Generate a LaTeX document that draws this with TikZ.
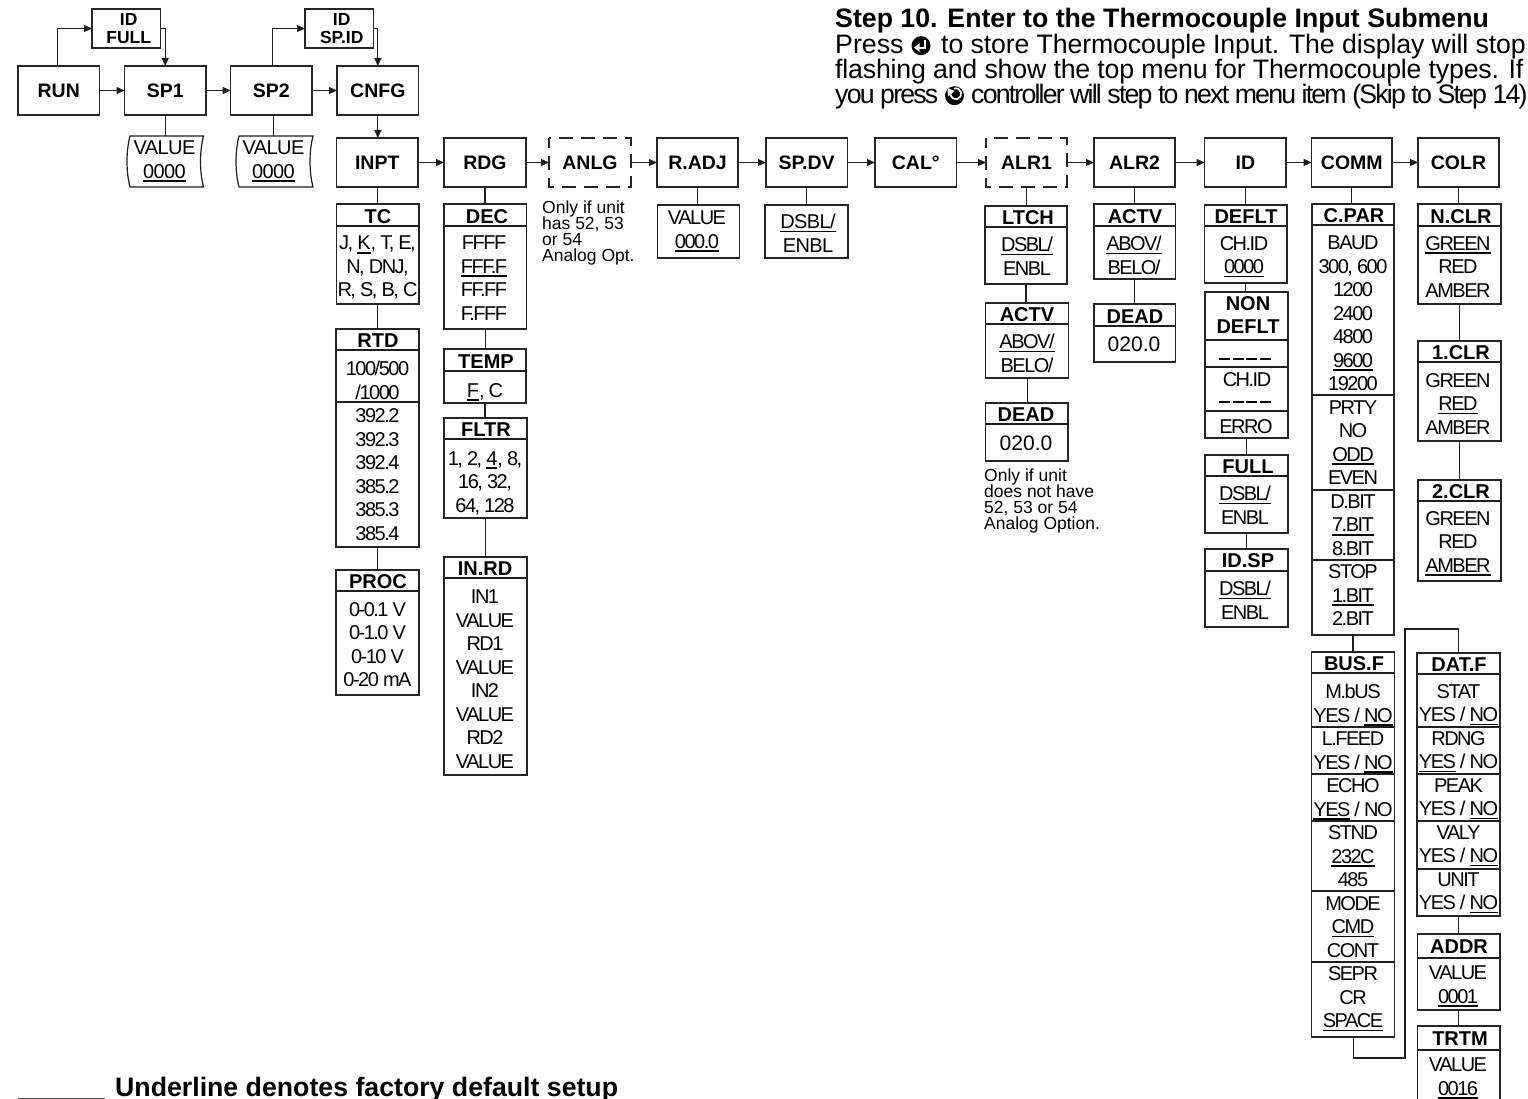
\documentclass[tikz,border=0pt]{standalone}
\usepackage{fontspec}
\usetikzlibrary{arrows.meta,calc}
\setmainfont{Liberation Sans}
\newfontfamily\tightf[LetterSpace=-7.5]{Liberation Sans}
\newfontfamily\midf[LetterSpace=-3]{Liberation Sans}
\newfontfamily\stepg[LetterSpace=-6.8]{Liberation Sans}
\newfontfamily\stepa[LetterSpace=-0.5]{Liberation Sans}
\newfontfamily\stepb[LetterSpace=-0.7]{Liberation Sans}
\newcommand\ul[1]{\setbox0\hbox{#1}\rlap{\rule[-3.6pt]{\wd0}{1.7pt}}\box0\relax}
\tikzset{
  lnk/.style={line width=1.2pt,draw=black!88},
  arr/.style={lnk,-{Triangle[length=8pt,width=7pt]}},
  box/.style={draw=black!85,line width=1.2pt,inner sep=0pt,outer sep=0pt,fill=white},
  headbox/.style={box,text depth=0pt,font=\fontsize{19.5}{22}\bfseries\selectfont},
  smallhead/.style={box,align=center,font=\fontsize{17.5}{18.3}\bfseries\selectfont},
  dashbox/.style={box,draw=none,fill=none,text depth=0pt,font=\fontsize{19.5}{22}\bfseries\selectfont},
  dashline/.style={draw=black!85,line width=1.1pt,dash pattern=on 14pt off 8pt,dash phase=4pt},
  ttlst/.style={inner sep=0pt,yshift=-0.7pt,font=\fontsize{20}{23.5}\bfseries\selectfont},
  rowst/.style={inner sep=0pt,anchor=north,align=center,font=\fontsize{20}{23.5}\tightf\selectfont,execute at begin node=\strut},
  midrow/.style={font=\fontsize{20}{23.5}\midf\selectfont},
  bigrow/.style={font=\fontsize{21}{23.5}\rmfamily\selectfont},
  notest/.style={inner sep=0pt,anchor=north west,align=left,font=\fontsize{17.5}{16}\selectfont,execute at begin node={\lineskiplimit=-8pt\strut}},
  stepst/.style={inner sep=0pt,anchor=base west},
  steptxt/.style={stepst,font=\fontsize{26.7}{25}\selectfont},
  steptxa/.style={stepst,font=\fontsize{26.7}{25}\stepa\selectfont},
  steptxb/.style={stepst,font=\fontsize{26.7}{25}\stepb\selectfont},
  stepcnd/.style={stepst,font=\fontsize{26.7}{25}\stepg\selectfont},
  stepbold/.style={stepst,font=\fontsize{26.7}{25}\bfseries\selectfont},
}
\newcommand\pnl[6][box]{\node[#1,minimum width={(#4-#2)*1pt},minimum height={(#5-#3)*1pt}] (#6) at ({(#2+#4)/2},{(#3+#5)/2}) {};}
\newcommand\hd[7][headbox]{\node[#1,minimum width={(#4-#2)*1pt},minimum height={(#5-#3)*1pt}] (#6) at ({(#2+#4)/2},{(#3+#5)/2}) {#7};}
\newcommand\dv[2]{\draw[lnk] (#1.west |- 0,#2) -- (#1.east |- 0,#2);}
\newcommand\ttl[4]{\node[ttlst] (#1-t) at (#2,#3) {#4};}
\newcommand\rws[5][]{\node[rowst,#1] (#2-r) at (#3,{#4-7}) {#5};}
\newcommand\vl[2]{\draw[lnk] (#1.south) -- (#1.south |- #2.north);}
\begin{document}
\begin{tikzpicture}[x=1pt,y=-1pt]
\useasboundingbox (0,0) rectangle (1528,1099);
\clip (0,0) rectangle (1528,1099);
\fill[white] (0,0) rectangle (1528,1099);

% step text
\node[stepbold] (stephead) at (835,28) {Step 10. Enter to the Thermocouple Input Submenu};
\node[steptxt] (st1a) at (835,54) {Press};
\node[steptxa] (st1b) at (941,54) {to store Thermocouple Input. The display will stop};
\node[steptxb] (st2) at (835,78.5) {flashing and show the top menu for Thermocouple types. If};
\node[stepcnd] (st3a) at (835,103.5) {you press};
\node[stepcnd] (st3b) at (971,103.5) {controller will step to next menu item (Skip to Step 14)};
% enter icon
\fill[black] (921,45.7) circle (9.5);
\draw[white,line width=2pt] (924.5,39.7) -- (924.5,47.7) -- (918,47.7);
\fill[white] (919.5,43) -- (914,47.7) -- (919.5,52) -- cycle;
% step icon
\fill[black] (954.5,95.7) circle (9.5);
\draw[white,line width=1.7pt] (951,91) arc (210:-110:5.5);
\fill[white] (947.5,88) -- (954.5,91) -- (948,96.5) -- cycle;

% top row
\hd{18}{66}{99.5}{115}{run}{RUN}
\hd{124.5}{66}{206}{115}{sp1}{SP1}
\hd{230.7}{66}{312}{115}{sp2}{SP2}
\hd{337}{66}{418.7}{115}{cnfg}{CNFG}
\hd[smallhead]{92}{9}{160.5}{48}{idfull}{\ ID\\\ FULL}
\hd[smallhead]{305}{9}{373.6}{48}{idspid}{\ ID\\\ SP.ID}
\draw[arr] (run.east) -- (sp1.west);
\draw[arr] (sp1.east) -- (sp2.west);
\draw[arr] (sp2.east) -- (cnfg.west);
\draw[arr] (run.north) ++(-1,0) |- (idfull.west);
\draw[arr] (idfull.east) -| (sp1.north);
\draw[arr] (sp2.north) ++(1.5,0) |- (idspid.west);
\draw[arr] (idspid.east) -| (cnfg.north);

% scroll boxes
\pnl[box,draw=none,fill=none]{130}{136}{203.5}{187}{val1}
\pnl[box,draw=none,fill=none]{239}{136}{313}{187}{val2}
\foreach \n in {val1,val2}{
  \draw[lnk] (\n.north west) .. controls ($(\n.west)+(-4,-10)$) and ($(\n.west)+(-4,10)$) .. (\n.south west) -- (\n.south east)
     .. controls ($(\n.east)+(-4,10)$) and ($(\n.east)+(-4,-10)$) .. (\n.north east) -- cycle;
}
\rws[midrow]{val1}{164.5}{148}{VALUE\\\ul{0000}}
\rws[midrow]{val2}{273.5}{148}{VALUE\\\ul{0000}}
\draw[lnk] (sp1.south) -- (sp1.south |- val1.north);
\draw[lnk] (val2.north) ++(-2.5,0) -- ++(0,-21);
\draw[arr] (cnfg.south) -- (cnfg.south |- 0,138);

% second row heads
\hd{336.5}{138}{418}{187}{inpt}{INPT}
\hd{444}{138}{526}{187}{rdg}{RDG}
\pnl[dashbox]{549}{138}{631}{187}{anlg}
\node[dashbox] (anlg-t) at (anlg.center) {ANLG};
\draw[dashline] (anlg.north west) rectangle (anlg.south east);
\hd{657}{138}{738}{187}{radj}{R.ADJ}
\hd{766}{138}{847.4}{187}{spdv}{SP.DV}
\hd{875}{138}{956.6}{187}{cal}{CAL°}
\pnl[dashbox]{986}{138}{1067}{187}{alr1}
\node[dashbox] (alr1-t) at (alr1.center) {ALR1};
\draw[dashline] (alr1.north west) rectangle (alr1.south east);
\hd{1094}{138}{1175}{187}{alr2}{ALR2}
\hd{1204.7}{138}{1286}{187}{idh}{ID}
\hd{1311.7}{138}{1392}{187}{comm}{COMM}
\hd{1418}{138}{1499}{187}{colr}{COLR}
\draw[arr] (inpt.east) -- (rdg.west);
\draw[arr] (rdg.east) -- (anlg.west);
\draw[arr] (anlg.east) -- (radj.west);
\draw[arr] (radj.east) -- (spdv.west);
\draw[arr] (spdv.east) -- (cal.west);
\draw[arr] (cal.east) -- (alr1.west);
\draw[arr] (alr1.east) -- (alr2.west);
\draw[arr] (alr2.east) -- (idh.west);
\draw[arr] (idh.east) -- (comm.west);
\draw[arr] (comm.east) -- (colr.west);

% INPT column
\pnl{336.5}{204}{419}{304}{tc} \dv{tc}{226}
\ttl{tc}{378}{216}{TC}
\rws{tc}{377.5}{243}{J, \ul{K}, T, E,\\N, DNJ,\\R, S, B, C}
\pnl{336}{329}{419}{547}{rtd} \dv{rtd}{350} \dv{rtd}{402}
\ttl{rtd}{378}{340}{RTD}
\rws{rtd}{377.5}{368}{100/500\\/1000\\392.2\\392.3\\392.4\\385.2\\385.3\\385.4}
\pnl{336}{570}{419}{695}{proc} \dv{proc}{591}
\ttl{proc}{378}{581}{PROC}
\rws{proc}{377.5}{609}{0-0.1 V\\0-1.0 V\\0-10 V\\0-20 mA}
\vl{inpt}{tc}
\vl{tc}{rtd}
\vl{rtd}{proc}

% RDG column
\pnl{444}{204}{526.5}{329}{dec} \dv{dec}{226}
\ttl{dec}{487}{216}{DEC}
\rws{dec}{484}{243}{FFFF\\\ul{FFF.F}\\FF.FF\\F.FFF}
\pnl{444}{349}{526}{403}{temp} \dv{temp}{371}
\ttl{temp}{486}{361}{TEMP}
\rws{temp}{485}{387.5}{\ul{F}, C}
\pnl{444}{418}{527}{518}{fltr} \dv{fltr}{439}
\ttl{fltr}{486}{429}{FLTR}
\rws{fltr}{485}{458}{1, 2, \ul{4}, 8,\\16, 32,\\64, 128}
\pnl{444}{557}{527}{775}{inrd} \dv{inrd}{578}
\ttl{inrd}{485}{568}{IN.RD}
\rws{inrd}{485}{597}{IN1\\VALUE\\RD1\\VALUE\\IN2\\VALUE\\RD2\\VALUE}
\vl{rdg}{dec}
\vl{dec}{temp}
\vl{temp}{fltr}
\vl{fltr}{inrd}

% notes
\node[notest] (note1) at (542,200.5) {Only if unit\\has 52, 53\\or 54\\Analog Opt.};
\node[notest] (note2) at (984,468.5) {Only if unit\\does not have\\52, 53 or 54\\Analog Option.};

% R.ADJ and SP.DV
\pnl{657.6}{205}{739.5}{258}{radjv}
\rws{radjv}{697}{218}{VALUE\\\ul{000.0}}
\pnl{765}{205}{848}{258}{spdvv}
\rws[midrow]{spdvv}{808}{221}{\ul{DSBL/}\\ENBL}
\vl{radj}{radjv}
\vl{spdv}{spdvv}

% ALR1
\pnl{985}{206}{1067}{284}{ltch} \dv{ltch}{227}
\ttl{ltch}{1028}{217}{LTCH}
\rws{ltch}{1027}{244}{\ul{DSBL/}\\ENBL}
\pnl{985.6}{303}{1068.6}{378}{actv} \dv{actv}{324}
\ttl{actv}{1027}{314}{ACTV}
\rws{actv}{1027}{341}{\ul{ABOV/}\\BELO/}
\pnl{985.6}{403}{1068}{461}{dead} \dv{dead}{424}
\ttl{dead}{1026}{414}{DEAD}
\rws[bigrow]{dead}{1026}{441}{020.0}
\vl{alr1}{ltch}
\vl{ltch}{actv}
\vl{actv}{dead}

% ALR2
\pnl{1094}{204}{1175.5}{279}{actb} \dv{actb}{226}
\ttl{actb}{1135}{216}{ACTV}
\rws{actb}{1134}{243}{\ul{ABOV/}\\BELO/}
\pnl{1094}{304}{1175.5}{362}{deab} \dv{deab}{326}
\ttl{deab}{1135}{316}{DEAD}
\rws[bigrow]{deab}{1134}{342}{020.0}
\vl{alr2}{actb}
\vl{actb}{deab}

% ID
\pnl{1204.5}{205}{1287}{283}{deflt} \dv{deflt}{226}
\ttl{deflt}{1246}{216}{DEFLT}
\rws{deflt}{1244}{243}{CH.ID\\\ul{0000}}
\pnl{1205}{292}{1288}{438}{nond} \dv{nond}{340} \dv{nond}{367} \dv{nond}{411}
\node[inner sep=0pt,align=center,font=\fontsize{20}{23.5}\bfseries\selectfont] (nond-t) at (1248,315) {NON\\DEFLT};
\draw[line width=1.7pt,dash pattern=on 11pt off 2.5pt] (1219,359) -- (1271,359);
\draw[line width=1.7pt,dash pattern=on 11pt off 2.5pt] (1219,402) -- (1271,402);
\rws{nond}{1247}{377}{CH.ID}
\node[rowst] (nond-e) at (1246,{424-7}) {ERRO};
\pnl{1205}{455}{1288}{533}{full} \dv{full}{476}
\ttl{full}{1248}{466}{FULL}
\rws{full}{1245}{493}{\ul{DSBL/}\\ENBL}
\pnl{1205}{549}{1288}{627}{idsp} \dv{idsp}{571}
\ttl{idsp}{1248}{560}{ID.SP}
\rws{idsp}{1245}{588}{\ul{DSBL/}\\ENBL}
\vl{idh}{deflt}
\vl{deflt}{nond}
\vl{nond}{full}
\vl{full}{idsp}

% COMM
\pnl{1312}{204}{1394}{635}{cpar} \dv{cpar}{225} \dv{cpar}{395} \dv{cpar}{490} \dv{cpar}{560}
\ttl{cpar}{1354}{215}{C.PAR}
\rws{cpar}{1353}{243}{BAUD\\300, 600\\1200\\2400\\4800\\\ul{9600}\\19200\\PRTY\\NO\\\ul{ODD}\\EVEN\\D.BIT\\\ul{7.BIT}\\8.BIT\\STOP\\\ul{1.BIT}\\2.BIT}
\pnl{1311.7}{652}{1394.7}{1037}{busf} \dv{busf}{673} \dv{busf}{727} \dv{busf}{774} \dv{busf}{821} \dv{busf}{891} \dv{busf}{962}
\ttl{busf}{1354}{663}{BUS.F}
\rws{busf}{1353}{691}{M.bUS\\YES / \ul{NO}\\L.FEED\\YES / \ul{NO}\\ECHO\\\ul{YES} / NO\\STND\\\ul{232C}\\485\\MODE\\\ul{CMD}\\CONT\\SEPR\\CR\\\ul{SPACE}}
\vl{comm}{cpar}
\vl{cpar}{busf}

% COLR
\pnl{1418}{204}{1501}{304}{nclr} \dv{nclr}{226}
\ttl{nclr}{1461}{216}{N.CLR}
\rws{nclr}{1458}{243}{\ul{GREEN}\\RED\\AMBER}
\pnl{1418}{341}{1501}{441}{oclr} \dv{oclr}{362}
\ttl{oclr}{1461}{352}{1.CLR}
\rws{oclr}{1458}{380}{GREEN\\\ul{RED}\\AMBER}
\pnl{1418}{480}{1501}{581}{tclr} \dv{tclr}{501}
\ttl{tclr}{1461}{491}{2.CLR}
\rws{tclr}{1458}{518}{GREEN\\RED\\\ul{AMBER}}
\vl{colr}{nclr}
\vl{nclr}{oclr}
\vl{oclr}{tclr}

% DAT.F
\pnl{1417}{653}{1500}{916}{datf} \dv{datf}{674} \dv{datf}{727} \dv{datf}{774} \dv{datf}{821} \dv{datf}{869}
\ttl{datf}{1459}{664}{DAT.F}
\rws{datf}{1458.5}{691}{STAT\\YES / \ul{NO}\\RDNG\\\ul{YES} / NO\\PEAK\\YES / \ul{NO}\\VALY\\YES / \ul{NO}\\UNIT\\YES / \ul{NO}}
\pnl{1417.5}{934}{1500}{1010}{addr} \dv{addr}{958}
\ttl{addr}{1459}{946}{ADDR}
\rws{addr}{1458}{973}{VALUE\\\ul{0001}}
\pnl{1417.5}{1026}{1500}{1115}{trtm} \dv{trtm}{1050}
\ttl{trtm}{1460}{1038}{TRTM}
\rws{trtm}{1458}{1065}{VALUE\\\ul{0016}}
\draw[lnk] (busf.south) |- (1405,1058) |- (datf.north |- 0,629) -- (datf.north);
\vl{datf}{addr}
\vl{addr}{trtm}

% legend
\coordinate (lega) at (18,1098);
\coordinate (legb) at (105,1098);
\draw[line width=1pt,draw=black!70] (lega) -- (legb);
\node[stepbold] (legend) at (115,1096) {Underline denotes factory default setup};
\end{tikzpicture}
\end{document}
